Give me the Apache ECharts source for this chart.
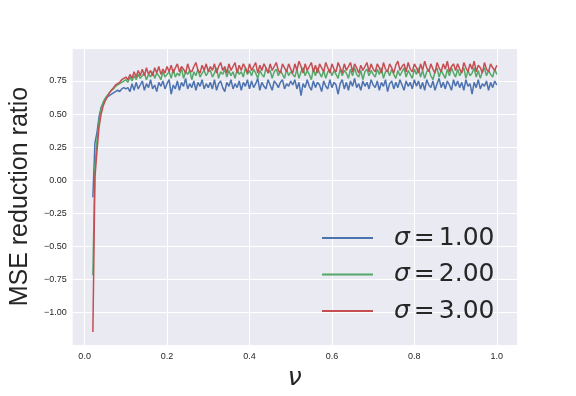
<!DOCTYPE html>
<html>
<head>
<meta charset="utf-8">
<script src="https://cdn.jsdelivr.net/npm/echarts@6/dist/echarts.min.js"></script>
<style>
  html, body { margin: 0; padding: 0; background: #fff; }
  #chart { width: 576px; height: 396px; }
</style>
</head>
<body>
<div id="chart"></div>
<script>
// MSE reduction ratio vs nu, sampled every 0.005 from 0.020 to 1.000
const blue = [
  -0.13,0.28,0.36,0.48,0.55,0.58,0.61,0.63,0.64,0.65,0.66,0.67,0.68,0.67,0.69,0.70,0.69,
  0.70,0.67,0.73,0.68,0.74,0.69,0.72,0.75,0.68,0.73,0.70,0.76,0.69,0.72,0.67,0.74,0.71,0.75,0.69,0.73,
  0.76,0.65,0.72,0.69,0.75,0.68,0.74,0.71,0.77,0.69,0.73,0.70,0.75,0.68,0.74,0.71,0.76,0.69,0.73,0.70,
  0.74,0.69,0.76,0.68,0.73,0.75,0.70,0.67,0.74,0.71,0.76,0.69,0.73,0.70,0.75,0.68,0.74,0.71,0.76,0.69,
  0.75,0.70,0.73,0.77,0.68,0.74,0.71,0.69,0.76,0.72,0.68,0.75,0.73,0.70,0.74,0.76,0.69,0.73,0.71,0.75,
  0.72,0.76,0.69,0.74,0.64,0.73,0.70,0.76,0.71,0.68,0.75,0.70,0.74,0.72,0.67,0.75,0.71,0.69,0.76,0.70,
  0.74,0.72,0.65,0.73,0.76,0.69,0.74,0.68,0.75,0.71,0.77,0.70,0.73,0.68,0.75,0.71,0.74,0.69,0.76,0.72,
  0.70,0.75,0.68,0.74,0.71,0.76,0.67,0.73,0.75,0.69,0.74,0.70,0.76,0.72,0.68,0.75,0.71,0.74,0.69,0.76,
  0.71,0.75,0.69,0.74,0.68,0.76,0.72,0.70,0.75,0.68,0.73,0.77,0.70,0.74,0.69,0.75,0.72,0.68,0.76,0.71,
  0.75,0.70,0.74,0.68,0.76,0.71,0.73,0.65,0.74,0.70,0.76,0.69,0.73,0.71,0.75,0.68,0.74,0.70,0.75,0.72
];
const green = [
  -0.72,0.10,0.30,0.45,0.54,0.59,0.62,0.64,0.66,0.68,0.69,0.71,0.72,0.73,0.74,0.75,0.76,
  0.74,0.78,0.75,0.79,0.76,0.80,0.77,0.79,0.81,0.76,0.80,0.78,0.82,0.77,0.81,0.79,0.76,0.82,0.78,0.80,
  0.82,0.77,0.84,0.78,0.81,0.79,0.85,0.77,0.82,0.80,0.83,0.76,0.82,0.79,0.84,0.78,0.81,0.83,0.79,0.82,
  0.83,0.78,0.81,0.85,0.77,0.82,0.80,0.84,0.78,0.83,0.79,0.82,0.77,0.84,0.80,0.82,0.78,0.85,0.80,0.83,
  0.79,0.84,0.81,0.77,0.83,0.80,0.78,0.85,0.81,0.83,0.77,0.82,0.84,0.79,0.83,0.80,0.77,0.84,0.79,0.82,
  0.80,0.78,0.84,0.77,0.82,0.85,0.79,0.83,0.80,0.76,0.84,0.79,0.85,0.81,0.78,0.83,0.77,0.82,0.84,0.79,
  0.83,0.80,0.77,0.84,0.79,0.83,0.81,0.77,0.84,0.79,0.85,0.80,0.78,0.83,0.76,0.82,0.84,0.79,0.83,0.80,
  0.78,0.84,0.80,0.85,0.77,0.82,0.83,0.79,0.84,0.80,0.77,0.83,0.79,0.82,0.85,0.78,0.83,0.80,0.77,0.84,
  0.80,0.85,0.78,0.83,0.77,0.82,0.84,0.79,0.76,0.82,0.85,0.78,0.83,0.80,0.77,0.84,0.79,0.85,0.81,0.78,
  0.84,0.79,0.82,0.85,0.77,0.83,0.79,0.81,0.85,0.78,0.83,0.77,0.82,0.85,0.79,0.83,0.80,0.78,0.84,0.80
];
const red = [
  -1.15,0.02,0.22,0.40,0.50,0.56,0.60,0.63,0.66,0.68,0.70,0.72,0.73,0.74,0.76,0.77,0.78,
  0.76,0.80,0.77,0.82,0.78,0.83,0.79,0.84,0.79,0.85,0.80,0.83,0.79,0.85,0.81,0.86,0.80,0.84,0.81,0.86,
  0.82,0.87,0.81,0.85,0.88,0.82,0.86,0.84,0.81,0.88,0.83,0.82,0.86,0.89,0.83,0.81,0.87,0.83,0.88,0.82,
  0.86,0.83,0.88,0.81,0.86,0.89,0.83,0.86,0.81,0.88,0.83,0.86,0.89,0.81,0.87,0.83,0.88,0.85,0.81,0.88,
  0.83,0.86,0.89,0.81,0.87,0.83,0.88,0.85,0.81,0.88,0.83,0.86,0.89,0.83,0.81,0.88,0.85,0.82,0.88,0.84,
  0.81,0.88,0.83,0.90,0.86,0.81,0.88,0.83,0.86,0.89,0.82,0.87,0.81,0.88,0.85,0.82,0.89,0.85,0.81,0.88,
  0.84,0.82,0.89,0.85,0.81,0.88,0.83,0.86,0.89,0.82,0.88,0.85,0.81,0.87,0.83,0.86,0.89,0.82,0.88,0.84,
  0.82,0.88,0.85,0.81,0.89,0.84,0.82,0.88,0.85,0.81,0.87,0.90,0.83,0.86,0.88,0.82,0.89,0.84,0.82,0.88,
  0.85,0.81,0.88,0.83,0.90,0.85,0.82,0.88,0.84,0.81,0.89,0.85,0.82,0.88,0.84,0.90,0.82,0.86,0.88,0.83,
  0.88,0.84,0.81,0.89,0.85,0.82,0.88,0.84,0.90,0.82,0.87,0.85,0.81,0.89,0.84,0.82,0.88,0.85,0.83,0.87
];
const nu = blue.map((_, i) => Number((0.02 + 0.005 * i).toFixed(3)));
const sigmas = ['1.00', '2.00', '3.00'];
const colors = ['#4C72B0', '#55A868', '#C44E52'];
const xTicks = [0, 0.2, 0.4, 0.6, 0.8, 1.0];

const textColor = '#262626';
const font = 'Liberation Sans, Arial, sans-serif';
const mathFont = 'DejaVu Sans, sans-serif';

const series = [blue, green, red].map((vals, k) => ({
  type: 'line',
  name: 'σ = ' + sigmas[k],
  data: vals.map((v, i) => [nu[i], v]),
  symbol: 'none',
  lineStyle: { width: 1.5, color: colors[k] },
  itemStyle: { color: colors[k] },
  z: 2 + k
}));

const chart = echarts.init(document.getElementById('chart'));
chart.setOption({
  animation: false,
  backgroundColor: '#fff',
  grid: {
    left: 72, right: 59, top: 48, bottom: 50,
    show: true, backgroundColor: '#EAEAF2', borderWidth: 0
  },
  xAxis: {
    type: 'value',
    min: -0.029, max: 1.049,
    name: 'ν',
    nameLocation: 'middle',
    nameGap: 18,
    nameTextStyle: { fontSize: 25, fontStyle: 'italic', color: textColor, fontFamily: mathFont },
    axisLine: { show: false },
    axisTick: { show: false, customValues: xTicks },
    axisLabel: {
      customValues: xTicks,
      formatter: v => v.toFixed(1),
      fontSize: 9, color: textColor, fontFamily: font, margin: 7
    },
    splitLine: { show: true, lineStyle: { color: '#fff', width: 1 } }
  },
  yAxis: {
    type: 'value',
    min: -1.25, max: 1.0, interval: 0.25,
    name: 'MSE reduction ratio',
    nameLocation: 'middle',
    nameGap: 39,
    nameTextStyle: { fontSize: 25, color: textColor, fontFamily: font },
    axisLine: { show: false },
    axisTick: { show: false },
    axisLabel: {
      showMinLabel: false, showMaxLabel: false,
      formatter: v => v.toFixed(2).replace('-', '\u2212'),
      fontSize: 9, color: textColor, fontFamily: font, margin: 6
    },
    splitLine: { show: true, lineStyle: { color: '#fff', width: 1 } }
  },
  legend: {
    orient: 'vertical',
    left: 317, top: 219,
    icon: 'rect',
    itemWidth: 51, itemHeight: 2, itemGap: 8.5,
    data: series.map(s => s.name),
    formatter: name => '{s|σ}{e|=}{t|' + name.split('= ')[1] + '}',
    textStyle: {
      color: textColor, fontSize: 25, fontFamily: mathFont, lineHeight: 28,
      rich: {
        s: { fontSize: 25, fontStyle: 'italic', color: textColor, fontFamily: mathFont, padding: [0, 0, 0, 16] },
        e: { fontSize: 25, color: textColor, fontFamily: mathFont, padding: [0, 4, 0, 4] },
        t: { fontSize: 25, color: textColor, fontFamily: mathFont }
      }
    }
  },
  series: series
});
</script>
</body>
</html>
